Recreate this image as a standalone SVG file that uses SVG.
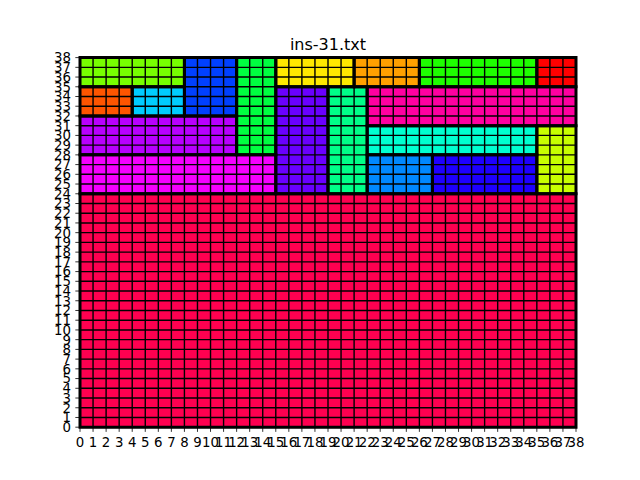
<svg xmlns="http://www.w3.org/2000/svg" width="640" height="480" viewBox="0 0 640 480">
<style>
.c{stroke:#000;stroke-width:3;vector-effect:non-scaling-stroke}
.g{fill:none;stroke:#000;stroke-width:1.4;vector-effect:non-scaling-stroke}
.t{font-family:"DejaVu Sans",sans-serif;font-size:13.33px;fill:#000}
.xt{text-anchor:middle}
.yt{text-anchor:end}
.tk{fill:none;stroke:#000;stroke-width:0.8}
</style>
<rect width="640" height="480" fill="#fff"/>
<g transform="translate(80,427.2) scale(13.0526,-9.7263)">
<g id="fills">
<g id="r1"><rect x="0" y="0" width="38" height="24" fill="#ff0050"/></g>
<g id="r2"><rect x="0" y="24" width="15" height="4" fill="#f500ff"/></g>
<g id="r3"><rect x="0" y="28" width="12" height="4" fill="#b800ff"/></g>
<g id="r4"><rect x="0" y="32" width="4" height="3" fill="#ff5500"/></g>
<g id="r5"><rect x="4" y="32" width="4" height="3" fill="#00ccff"/></g>
<g id="r6"><rect x="0" y="35" width="8" height="3" fill="#77ff00"/></g>
<g id="r7"><rect x="8" y="32" width="4" height="6" fill="#0040ff"/></g>
<g id="r8"><rect x="12" y="28" width="3" height="10" fill="#00ff40"/></g>
<g id="r9"><rect x="15" y="35" width="6" height="3" fill="#ffe800"/></g>
<g id="r10"><rect x="15" y="24" width="4" height="11" fill="#6a00ff"/></g>
<g id="r11"><rect x="19" y="24" width="3" height="11" fill="#00ff88"/></g>
<g id="r12"><rect x="21" y="35" width="5" height="3" fill="#ffa000"/></g>
<g id="r13"><rect x="26" y="35" width="9" height="3" fill="#1eff00"/></g>
<g id="r14"><rect x="35" y="35" width="3" height="3" fill="#ff0000"/></g>
<g id="r15"><rect x="22" y="31" width="16" height="4" fill="#ff00a0"/></g>
<g id="r16"><rect x="22" y="28" width="13" height="3" fill="#00ffd0"/></g>
<g id="r17"><rect x="22" y="24" width="5" height="4" fill="#0088ff"/></g>
<g id="r18"><rect x="27" y="24" width="8" height="4" fill="#1e00ff"/></g>
<g id="r19"><rect x="35" y="24" width="3" height="7" fill="#c8ff00"/></g>
</g>
<path class="g" d="M1 0V38M2 0V38M3 0V38M4 0V38M5 0V38M6 0V38M7 0V38M8 0V38M9 0V38M10 0V38M11 0V38M12 0V38M13 0V38M14 0V38M15 0V38M16 0V38M17 0V38M18 0V38M19 0V38M20 0V38M21 0V38M22 0V38M23 0V38M24 0V38M25 0V38M26 0V38M27 0V38M28 0V38M29 0V38M30 0V38M31 0V38M32 0V38M33 0V38M34 0V38M35 0V38M36 0V38M37 0V38M0 1H38M0 2H38M0 3H38M0 4H38M0 5H38M0 6H38M0 7H38M0 8H38M0 9H38M0 10H38M0 11H38M0 12H38M0 13H38M0 14H38M0 15H38M0 16H38M0 17H38M0 18H38M0 19H38M0 20H38M0 21H38M0 22H38M0 23H38M0 24H38M0 25H38M0 26H38M0 27H38M0 28H38M0 29H38M0 30H38M0 31H38M0 32H38M0 33H38M0 34H38M0 35H38M0 36H38M0 37H38"/>
<g id="outlines" fill="none">
<rect class="c" x="0" y="0" width="38" height="24"/>
<rect class="c" x="0" y="24" width="15" height="4"/>
<rect class="c" x="0" y="28" width="12" height="4"/>
<rect class="c" x="0" y="32" width="4" height="3"/>
<rect class="c" x="4" y="32" width="4" height="3"/>
<rect class="c" x="0" y="35" width="8" height="3"/>
<rect class="c" x="8" y="32" width="4" height="6"/>
<rect class="c" x="12" y="28" width="3" height="10"/>
<rect class="c" x="15" y="35" width="6" height="3"/>
<rect class="c" x="15" y="24" width="4" height="11"/>
<rect class="c" x="19" y="24" width="3" height="11"/>
<rect class="c" x="21" y="35" width="5" height="3"/>
<rect class="c" x="26" y="35" width="9" height="3"/>
<rect class="c" x="35" y="35" width="3" height="3"/>
<rect class="c" x="22" y="31" width="16" height="4"/>
<rect class="c" x="22" y="28" width="13" height="3"/>
<rect class="c" x="22" y="24" width="5" height="4"/>
<rect class="c" x="27" y="24" width="8" height="4"/>
<rect class="c" x="35" y="24" width="3" height="7"/>
</g>
</g>
<g id="connectors"/>
<g id="axes">
<path class="tk" d="M80 427.2v4.67M93.05 427.2v4.67M106.11 427.2v4.67M119.16 427.2v4.67M132.21 427.2v4.67M145.26 427.2v4.67M158.32 427.2v4.67M171.37 427.2v4.67M184.42 427.2v4.67M197.47 427.2v4.67M210.53 427.2v4.67M223.58 427.2v4.67M236.63 427.2v4.67M249.68 427.2v4.67M262.74 427.2v4.67M275.79 427.2v4.67M288.84 427.2v4.67M301.89 427.2v4.67M314.95 427.2v4.67M328 427.2v4.67M341.05 427.2v4.67M354.11 427.2v4.67M367.16 427.2v4.67M380.21 427.2v4.67M393.26 427.2v4.67M406.32 427.2v4.67M419.37 427.2v4.67M432.42 427.2v4.67M445.47 427.2v4.67M458.53 427.2v4.67M471.58 427.2v4.67M484.63 427.2v4.67M497.68 427.2v4.67M510.74 427.2v4.67M523.79 427.2v4.67M536.84 427.2v4.67M549.89 427.2v4.67M562.95 427.2v4.67M576 427.2v4.67"/>
<path class="tk" d="M80 427.2h-4.67M80 417.47h-4.67M80 407.75h-4.67M80 398.02h-4.67M80 388.29h-4.67M80 378.57h-4.67M80 368.84h-4.67M80 359.12h-4.67M80 349.39h-4.67M80 339.66h-4.67M80 329.94h-4.67M80 320.21h-4.67M80 310.48h-4.67M80 300.76h-4.67M80 291.03h-4.67M80 281.31h-4.67M80 271.58h-4.67M80 261.85h-4.67M80 252.13h-4.67M80 242.4h-4.67M80 232.67h-4.67M80 222.95h-4.67M80 213.22h-4.67M80 203.5h-4.67M80 193.77h-4.67M80 184.04h-4.67M80 174.32h-4.67M80 164.59h-4.67M80 154.86h-4.67M80 145.14h-4.67M80 135.41h-4.67M80 125.68h-4.67M80 115.96h-4.67M80 106.23h-4.67M80 96.51h-4.67M80 86.78h-4.67M80 77.05h-4.67M80 67.33h-4.67M80 57.6h-4.67"/>
<g class="t xt">
<text x="80" y="447">0</text><text x="93.05" y="447">1</text><text x="106.11" y="447">2</text><text x="119.16" y="447">3</text><text x="132.21" y="447">4</text><text x="145.26" y="447">5</text><text x="158.32" y="447">6</text><text x="171.37" y="447">7</text><text x="184.42" y="447">8</text><text x="197.47" y="447">9</text><text x="210.53" y="447">10</text><text x="223.58" y="447">11</text><text x="236.63" y="447">12</text><text x="249.68" y="447">13</text><text x="262.74" y="447">14</text><text x="275.79" y="447">15</text><text x="288.84" y="447">16</text><text x="301.89" y="447">17</text><text x="314.95" y="447">18</text><text x="328" y="447">19</text><text x="341.05" y="447">20</text><text x="354.11" y="447">21</text><text x="367.16" y="447">22</text><text x="380.21" y="447">23</text><text x="393.26" y="447">24</text><text x="406.32" y="447">25</text><text x="419.37" y="447">26</text><text x="432.42" y="447">27</text><text x="445.47" y="447">28</text><text x="458.53" y="447">29</text><text x="471.58" y="447">30</text><text x="484.63" y="447">31</text><text x="497.68" y="447">32</text><text x="510.74" y="447">33</text><text x="523.79" y="447">34</text><text x="536.84" y="447">35</text><text x="549.89" y="447">36</text><text x="562.95" y="447">37</text><text x="576" y="447">38</text>
</g>
<g class="t yt">
<text x="71" y="432.05">0</text><text x="71" y="422.32">1</text><text x="71" y="412.6">2</text><text x="71" y="402.87">3</text><text x="71" y="393.14">4</text><text x="71" y="383.42">5</text><text x="71" y="373.69">6</text><text x="71" y="363.97">7</text><text x="71" y="354.24">8</text><text x="71" y="344.51">9</text><text x="71" y="334.79">10</text><text x="71" y="325.06">11</text><text x="71" y="315.33">12</text><text x="71" y="305.61">13</text><text x="71" y="295.88">14</text><text x="71" y="286.16">15</text><text x="71" y="276.43">16</text><text x="71" y="266.7">17</text><text x="71" y="256.98">18</text><text x="71" y="247.25">19</text><text x="71" y="237.52">20</text><text x="71" y="227.8">21</text><text x="71" y="218.07">22</text><text x="71" y="208.35">23</text><text x="71" y="198.62">24</text><text x="71" y="188.89">25</text><text x="71" y="179.17">26</text><text x="71" y="169.44">27</text><text x="71" y="159.71">28</text><text x="71" y="149.99">29</text><text x="71" y="140.26">30</text><text x="71" y="130.53">31</text><text x="71" y="120.81">32</text><text x="71" y="111.08">33</text><text x="71" y="101.36">34</text><text x="71" y="91.63">35</text><text x="71" y="81.9">36</text><text x="71" y="72.18">37</text><text x="71" y="62.45">38</text>
</g>
<text x="328" y="49.6" text-anchor="middle" font-family="DejaVu Sans, sans-serif" font-size="16px">ins-31.txt</text>
</g>
</svg>
